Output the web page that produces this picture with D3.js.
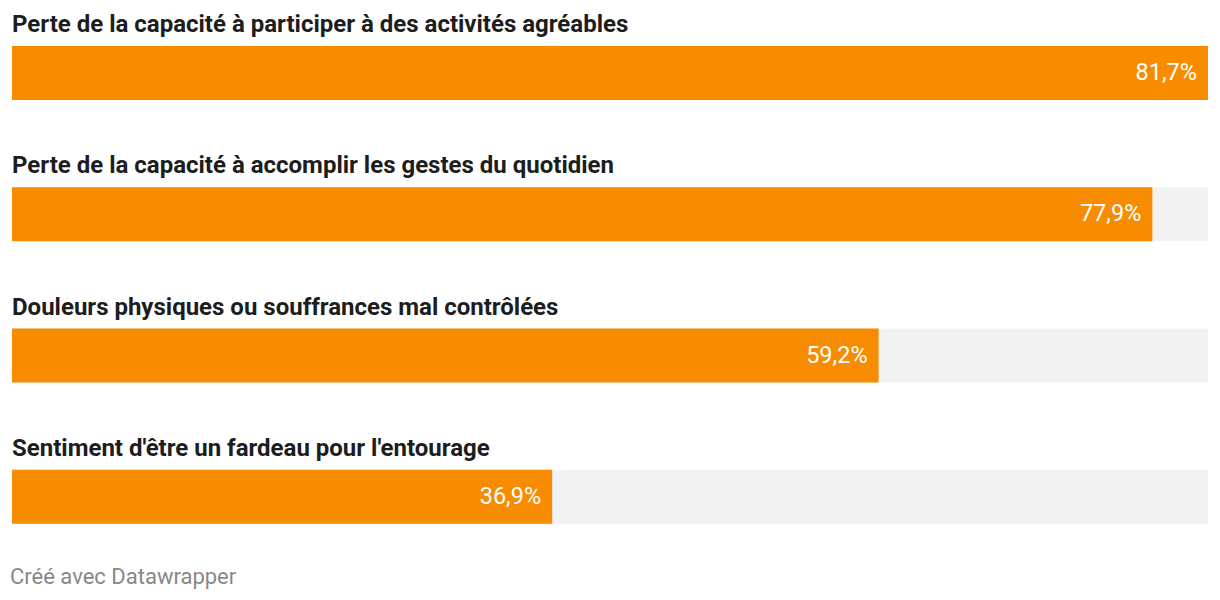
<!DOCTYPE html>
<html>
  <head>
    <meta charset="utf-8">
    <script src="https://d3js.org/d3.v7.min.js"></script>
    <style>
      body { margin: 0; background: #fff; }
      svg text { font-family: Roboto, sans-serif; }
    </style>
  </head>
  <body>
    <svg></svg>
    <script type="text/javascript">

      var categories = [
        "Perte de la capacité à participer à des activités agréables",
        "Perte de la capacité à accomplir les gestes du quotidien",
        "Douleurs physiques ou souffrances mal contrôlées",
        "Sentiment d'être un fardeau pour l'entourage"
      ];
      var values = [81.7, 77.9, 59.2, 36.9];

      var width = 1220, height = 600;
      var left = 12, right = 1208;

      var svg = d3.select("svg")
                  .attr("width", width)
                  .attr("height", height);

      var x = d3.scaleLinear()
                .domain([0, d3.max(values)])
                .range([left, right]);

      // each row: label then bar, ~141px apart
      var y = d3.scaleBand()
                .domain(d3.range(categories.length))
                .range([0, 565]);

      var fmt = v => d3.format(".1f")(v).replace(".", ",") + "%";

      var rows = svg.selectAll("g.row")
        .data(categories)
        .join("g")
        .attr("class", "row")
        .attr("transform", (d, i) => "translate(0," + y(i) + ")");

      rows.append("text")
        .attr("x", left)
        .attr("y", 32)
        .attr("font-size", 24)
        .attr("font-weight", 700)
        .attr("fill", "#1d1d1d")
        .text(d => d);

      rows.append("rect")
        .attr("x", left)
        .attr("y", 46)
        .attr("width", right - left)
        .attr("height", 54)
        .attr("fill", "#f2f2f2");

      rows.append("rect")
        .attr("x", left)
        .attr("y", 46)
        .attr("width", (d, i) => x(values[i]) - left)
        .attr("height", 54)
        .attr("fill", "#f88c00");

      rows.append("text")
        .attr("x", (d, i) => x(values[i]) - 11)
        .attr("y", 80)
        .attr("text-anchor", "end")
        .attr("font-size", 23.5)
        .attr("fill", "#fff")
        .text((d, i) => fmt(values[i]));

      svg.append("text")
        .attr("x", 10)
        .attr("y", 584)
        .attr("font-size", 22)
        .attr("fill", "#888")
        .text("Créé avec Datawrapper");

    </script>
  </body>
</html>
